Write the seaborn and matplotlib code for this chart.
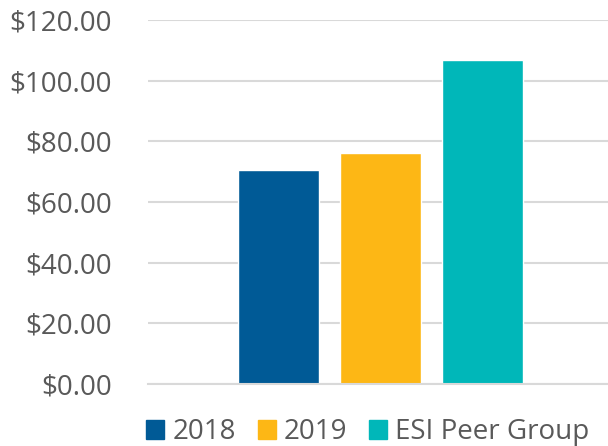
import pandas as pd
import matplotlib
matplotlib.use("Agg")
import matplotlib.pyplot as plt
import seaborn as sns

sns.set_style("white")
plt.rcParams['font.family'] = ['Open Sans', 'DejaVu Sans']

# data
series = ['2018', '2019', 'ESI Peer Group']
values = [70.5, 76.1, 106.9]
colors = ['#005A96', '#FDB715', '#00B7B9']
yticks = [0, 20, 40, 60, 80, 100, 120]

df = pd.DataFrame({'group': [''] * len(series), 'series': series, 'value': values})

fig = plt.figure(figsize=(6.08, 4.46), dpi=100)
ax = fig.add_axes([148 / 608, 1 - 384 / 446, 460 / 608, 364 / 446])

sns.barplot(data=df, x='group', y='value', hue='series', hue_order=series,
            palette=colors, width=0.8, gap=0.206, saturation=1, ax=ax, legend=False)

ax.set_ylim(0, 120)
ax.set_xlim(-0.608, 0.595)
ax.set_yticks(yticks)
ax.set_yticklabels(['${:.2f}'.format(t) for t in yticks])
ax.set_xticks([])
ax.set_xlabel('')
ax.set_ylabel('')
ax.yaxis.grid(True, color='#D9D9D9', linewidth=1.5)
ax.set_axisbelow(True)
ax.tick_params(axis='y', length=0, pad=26, labelsize=20, labelcolor='#595959')
for s in ['top', 'right', 'left']:
    ax.spines[s].set_visible(False)
ax.spines['bottom'].set_color('#D9D9D9')
ax.spines['bottom'].set_linewidth(1.5)

handles = [plt.Rectangle((0, 0), 1, 1, color=c) for c in colors]
fig.legend(handles, series, loc='center', bbox_to_anchor=(368 / 608, 1 - 432 / 446),
           ncol=3, frameon=False, fontsize=20, labelcolor='#595959',
           handlelength=0.65, handleheight=0.65, handletextpad=0.29,
           columnspacing=0.79, borderpad=0, borderaxespad=0)

fig.savefig('out.png', dpi=100)
